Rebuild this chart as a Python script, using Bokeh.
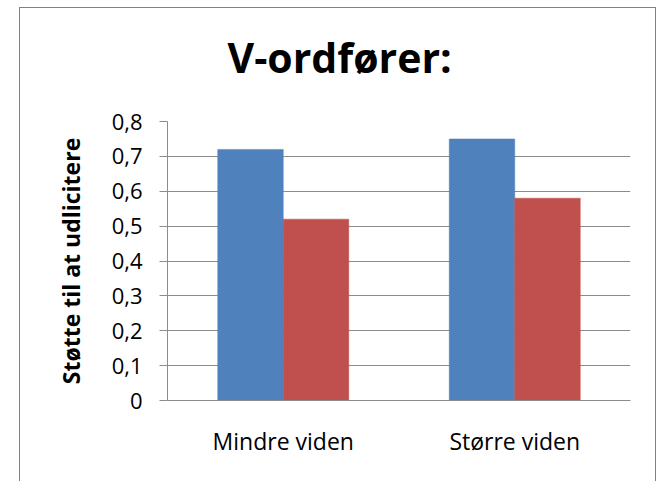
from bokeh.plotting import figure
from bokeh.models import FactorRange, FixedTicker, Range1d, ColumnDataSource, Title
from bokeh.transform import dodge
from bokeh.embed import file_html
from bokeh.resources import INLINE

categories = ["Mindre viden", "Større viden"]
serie1 = [0.72, 0.75]
serie2 = [0.52, 0.58]
y_ticks = [0, 0.1, 0.2, 0.3, 0.4, 0.5, 0.6, 0.7, 0.8]
y_tick_labels = ["0", "0,1", "0,2", "0,3", "0,4", "0,5", "0,6", "0,7", "0,8"]
title_text = "V-ordfører:"
y_label = "Støtte til at udlicitere"

src = ColumnDataSource(data=dict(cat=categories, s1=serie1, s2=serie2))

FONT = "Open Sans"
GRAY = "#8c8c8c"

p = figure(
    x_range=FactorRange(*categories, range_padding=0),
    y_range=Range1d(0, 0.8),
    width=637, height=474,
    output_backend="svg", toolbar_location=None,
    min_border_left=147, min_border_right=27, min_border_top=113, min_border_bottom=82,
)
p.margin = (7, 0, 0, 19)
p.styles = {"border-left": "1px solid #808080", "border-top": "1px solid #808080",
            "border-right": "1px solid #808080"}

# spacer between plot area and the title
p.add_layout(Title(text=" ", text_font_size="1px", standoff=34), "above")
p.add_layout(Title(text=title_text, text_font=FONT, text_font_size="41px",
                   text_font_style="bold", text_color="#000000",
                   align="left", offset=60, standoff=0), "above")

p.vbar(x=dodge("cat", -0.1415, range=p.x_range), top="s1", width=0.283, source=src,
       fill_color="#4F81BD", line_color="#4F81BD", line_width=0.5)
p.vbar(x=dodge("cat", 0.1415, range=p.x_range), top="s2", width=0.283, source=src,
       fill_color="#C0504D", line_color="#C0504D", line_width=0.5)

p.outline_line_color = None
p.background_fill_color = "white"
p.border_fill_color = "white"

p.xgrid.grid_line_color = None
p.ygrid.grid_line_color = GRAY
p.ygrid.grid_line_width = 1

p.yaxis.ticker = FixedTicker(ticks=y_ticks)
p.yaxis.major_label_overrides = {t: l for t, l in zip(y_ticks, y_tick_labels)}
p.yaxis.axis_label = y_label
p.yaxis.axis_label_text_font = FONT
p.yaxis.axis_label_text_font_size = "23px"
p.yaxis.axis_label_text_font_style = "bold"
p.yaxis.axis_label_text_color = "#000000"
p.yaxis.axis_label_standoff = 22
p.yaxis.major_label_text_font = FONT
p.yaxis.major_label_text_font_size = "22px"
p.yaxis.major_label_text_color = "#000000"
p.yaxis.major_label_standoff = 17
p.yaxis.major_tick_out = 8
p.yaxis.major_tick_in = 0
p.yaxis.minor_tick_line_color = None
p.yaxis.axis_line_color = GRAY
p.yaxis.major_tick_line_color = GRAY

p.xaxis.major_label_text_font = FONT
p.xaxis.major_label_text_font_size = "23px"
p.xaxis.major_label_text_color = "#000000"
p.xaxis.major_label_standoff = 24
p.xaxis.major_tick_out = 0
p.xaxis.major_tick_in = 0
p.xaxis.axis_line_color = GRAY

open("out.html", "w").write(file_html(p, INLINE))
